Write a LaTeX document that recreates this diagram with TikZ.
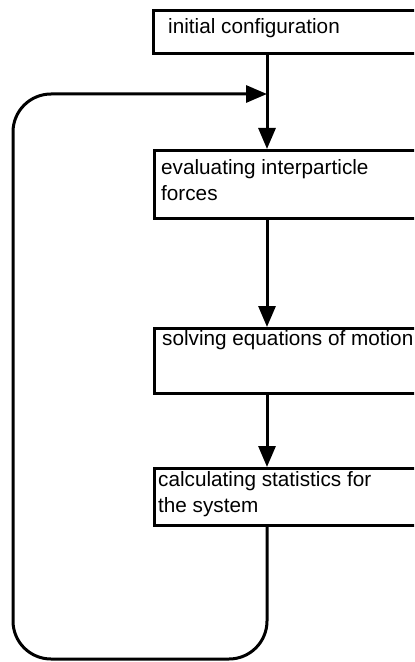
\documentclass[tikz,border=0pt]{standalone}
\usepackage{fontspec}
\setmainfont{Liberation Sans}
\usetikzlibrary{arrows.meta}

\tikzset{
  stagebox/.style={draw=black, line width=3.2bp, fill=white, anchor=north west,
    inner sep=0pt, minimum width=270bp},
  stagetext/.style={anchor=west, inner sep=0pt, align=left,
    font=\fontsize{20.8}{26}\selectfont},
  flow/.style={line width=3bp, -{Triangle[length=21bp,width=17bp]}}
}

\begin{document}
\begin{tikzpicture}[x=1bp,y=-1bp]
\clip (0,0) rectangle (414,662);
% stages
\node[stagebox, minimum height=43bp] (init) at (152,9) {};
\node[stagetext] (initlabel) at (168,28) {initial configuration};
\node[stagebox, minimum height=68bp] (eval) at (153,149) {};
\node[stagetext] (evallabel) at (161,180) {evaluating interparticle\\forces};
\node[stagebox, minimum height=65bp] (solve) at (153,327) {};
\node[stagetext] (solvelabel) at (162,340) {solving equations of motion};
\node[stagebox, minimum height=57bp] (stat) at (153,467) {};
\node[stagetext] (statlabel) at (158,494.5) {calculating statistics for\\the system};
% connectors
\coordinate (spine) at (267,0);
\coordinate (loopleft) at (13,94);
\coordinate (loopbottom) at (0,659);
\draw[flow] (spine |- init.south) -- (spine |- eval.north);
\draw[flow] (spine |- eval.south) -- (spine |- solve.north);
\draw[flow] (spine |- solve.south) -- (spine |- stat.north);
\draw[flow, rounded corners=38bp] (spine |- stat.south) -- (spine |- loopbottom)
  -- (loopleft |- loopbottom) -- (loopleft) -- (spine |- loopleft);
\end{tikzpicture}
\end{document}
